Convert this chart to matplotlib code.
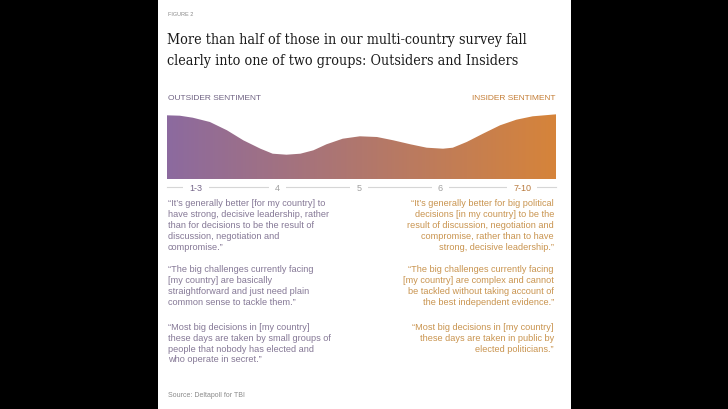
import matplotlib.pyplot as plt
import numpy as np
from matplotlib.colors import LinearSegmentedColormap
from matplotlib.patches import Rectangle

# sentiment scale positions (1 = "1-3" ... 5 = "7-10") and the height of the distribution there
scale_pos = [0.64, 0.80, 0.96, 1.17, 1.38, 1.58, 1.79, 1.94, 2.11, 2.28, 2.44, 2.60, 2.80,
             3.01, 3.22, 3.42, 3.63, 3.83, 4.03, 4.15, 4.32, 4.52, 4.73, 4.93, 5.13, 5.42]
density = [63.7, 63.3, 61.3, 57.0, 48.7, 38.7, 30.3, 25.3, 24.3, 25.3, 28.7, 34.7, 40.3,
           42.7, 42.0, 38.7, 34.7, 31.3, 30.3, 31.3, 37.0, 45.3, 53.7, 59.3, 62.7, 64.7]
tick_pos = [1, 2, 3, 4, 5]
tick_labels = ["1-3", "4", "5", "6", "7-10"]

title_lines = ["More than half of those in our multi-country survey fall",
               "clearly into one of two groups: Outsiders and Insiders"]

outsider_quotes = [
    ["\u201cIt\u2019s generally better [for my country] to",
     "have strong, decisive leadership, rather",
     "than for decisions to be the result of",
     "discussion, negotiation and",
     "compromise.\u201d"],
    ["\u201cThe big challenges currently facing",
     "[my country] are basically",
     "straightforward and just need plain",
     "common sense to tackle them.\u201d"],
    ["\u201cMost big decisions in [my country]",
     "these days are taken by small groups of",
     "people that nobody has elected and",
     "who operate in secret.\u201d"],
]
insider_quotes = [
    ["\u201cIt\u2019s generally better for big political",
     "decisions [in my country] to be the",
     "result of discussion, negotiation and",
     "compromise, rather than to have",
     "strong, decisive leadership.\u201d"],
    ["\u201cThe big challenges currently facing",
     "[my country] are complex and cannot",
     "be tackled without taking account of",
     "the best independent evidence.\u201d"],
    ["\u201cMost big decisions in [my country]",
     "these days are taken in public by",
     "elected politicians.\u201d"],
]

PURPLE = "#8c6a9f"
ORANGE = "#d6843a"
OUT_TXT = "#857896"
IN_TXT = "#c9944f"
W, H = 728, 410

fig = plt.figure(figsize=(W / 100, H / 100), dpi=100)
fig.patch.set_facecolor("black")


def fx(px):
    return px / W


def fy(py):
    return 1 - py / H


# white card behind everything
fig.patches.append(Rectangle((fx(158), 0), fx(571) - fx(158), 1, transform=fig.transFigure,
                             facecolor="white", edgecolor="none", zorder=-10))

sans = ["Liberation Sans", "DejaVu Sans"]

fig.text(fx(168), fy(15), "FIGURE 2", fontsize=4, color="#8a8a8a", family=sans, va="center")
for i, line in enumerate(title_lines):
    fig.text(fx(167), fy(40 + 21.5 * i), line, fontsize=10.3, color="#1a1a1a",
             family=["DejaVu Serif"], fontstretch="condensed", va="center")

fig.text(fx(168), fy(98), "OUTSIDER SENTIMENT", fontsize=6, color="#6f6282", family=sans, va="center")
fig.text(fx(556), fy(98), "INSIDER SENTIMENT", fontsize=6, color="#c47c34", family=sans,
         va="center", ha="right")

# distribution with left-to-right gradient
ax = fig.add_axes([fx(166.7), fy(180), fx(556.3) - fx(166.7), 66 / H])
ax.patch.set_alpha(0)
poly = ax.fill_between(scale_pos, density, 0, facecolor="none", lw=0)
cmap = LinearSegmentedColormap.from_list("sent", [PURPLE, ORANGE])
grad = np.linspace(0, 1, 256).reshape(1, -1)
img = ax.imshow(grad, cmap=cmap, aspect="auto", extent=(scale_pos[0], scale_pos[-1], 0, 66),
                origin="lower", zorder=5)
img.set_clip_path(poly.get_paths()[0], transform=ax.transData)
ax.set_xlim(scale_pos[0], scale_pos[-1])
ax.set_ylim(0, 66)

for side in ["top", "left", "right"]:
    ax.spines[side].set_visible(False)
ax.spines["bottom"].set_position(("outward", 5.8))
ax.spines["bottom"].set_color("#d6d6d6")
ax.spines["bottom"].set_linewidth(0.8)
ax.spines["bottom"].set_zorder(0.5)
ax.set_yticks([])
ax.set_xticks(tick_pos, tick_labels)
ax.tick_params(axis="x", length=0, pad=0, labelsize=6.5)
label_colors = ["#75668a", "#a0a0a0", "#a0a0a0", "#a0a0a0", "#b97a3e"]
for lbl, c in zip(ax.get_xticklabels(), label_colors):
    lbl.set_verticalalignment("center")
    lbl.set_color(c)
    lbl.set_family(sans)
    lbl.set_bbox(dict(facecolor="white", edgecolor="none", pad=4.5))

# quotes
block_tops = [204, 270, 327.5]
step = 10.8
for top, lines in zip(block_tops, outsider_quotes):
    for j, line in enumerate(lines):
        fig.text(fx(168), fy(top + step * j), line, fontsize=6.6, color=OUT_TXT, family=sans, va="center")
for top, lines in zip(block_tops, insider_quotes):
    for j, line in enumerate(lines):
        fig.text(fx(554), fy(top + step * j), line, fontsize=6.6, color=IN_TXT, family=sans,
                 va="center", ha="right")

fig.text(fx(168), fy(396), "Source: Deltapoll for TBI", fontsize=5, color="#8a8a8a", family=sans, va="center")

fig.savefig("out.png", dpi=100, facecolor="black")
